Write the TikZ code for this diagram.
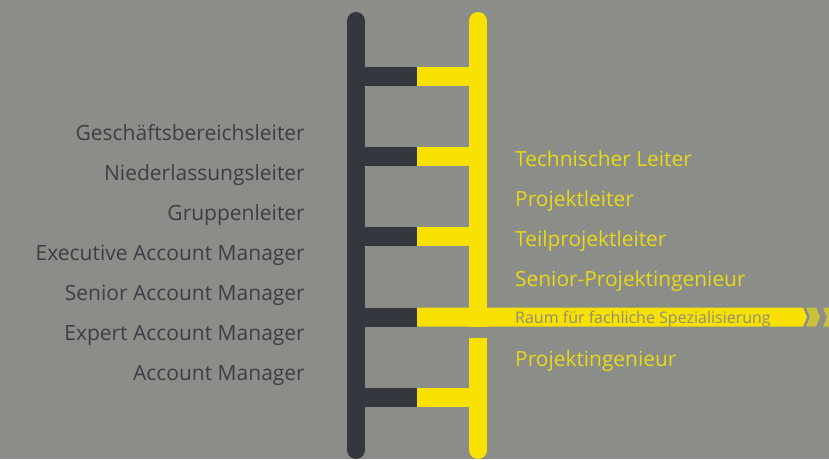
\documentclass[tikz,border=0pt]{standalone}
\usepackage{fontspec}
\setmainfont{Open Sans}[Ligatures=NoCommon]
\definecolor{bg}{HTML}{8A8D88}
\definecolor{rail}{HTML}{34373D}
\definecolor{yel}{HTML}{F8E100}
\definecolor{chev}{HTML}{CBC03A}
\definecolor{ltxt}{HTML}{3C3F44}
\definecolor{rtxt}{HTML}{EAD81A}
\definecolor{btxt}{HTML}{8C8D84}
\begin{document}
\begin{tikzpicture}[x=1pt,y=-1pt,
  lefttext/.style={anchor=base east,inner sep=0pt,text=ltxt,font=\fontsize{21}{22}\selectfont},
  righttext/.style={anchor=base west,inner sep=0pt,text=rtxt,font=\fontsize{20.9}{22}\selectfont},
  bartext/.style={anchor=base west,inner sep=0pt,text=btxt,font=\fontsize{16}{17}\selectfont}]
\fill[bg] (0,0) rectangle (829,459);
\useasboundingbox (0,0) rectangle (829,459);
% dark rail
\draw[rail,line width=18pt,line cap=round] (356,21) -- (356,450);
% yellow rail (two pieces)
\fill[yel] (469,21) rectangle (487,326.5);
\fill[yel] (478,21) circle (9);
\fill[yel] (469,338) rectangle (487,450);
\fill[yel] (478,450) circle (9);
% rungs
\foreach \c in {76,156.25,236.5,397}{
  \fill[rail] (364,\c-9.5) rectangle (417,\c+9.5);
  \fill[yel] (417,\c-9.5) rectangle (470,\c+9.5);
}
% long rung with arrow
\fill[rail] (364,307.5) rectangle (417,326.5);
\fill[yel] (417,307.5) -- (803,307.5) -- (807,317) -- (803,326.5) -- (417,326.5) -- cycle;
\fill[chev] (806,307.5) -- (816,307.5) -- (820,317) -- (816,326.5) -- (806,326.5) -- (810,317) -- cycle;
\fill[chev] (823,307.5) -- (833,307.5) -- (837,317) -- (833,326.5) -- (823,326.5) -- (827,317) -- cycle;
% left labels
\node[lefttext] (l1) at (305,140.5) {Geschäftsbereichsleiter};
\node[lefttext] (l2) at (305,180.5) {Niederlassungsleiter};
\node[lefttext] (l3) at (305,220.5) {Gruppenleiter};
\node[lefttext] (l4) at (305,260.5) {Executive Account Manager};
\node[lefttext] (l5) at (305,300.5) {Senior Account Manager};
\node[lefttext] (l6) at (305,340.5) {Expert Account Manager};
\node[lefttext] (l7) at (305,380.5) {Account Manager};
% right labels
\node[righttext] (r1) at (515,166) {Technischer Leiter};
\node[righttext] (r2) at (515,206) {Projektleiter};
\node[righttext] (r3) at (515,246) {Teilprojektleiter};
\node[righttext] (r4) at (515,286) {Senior-Projektingenieur};
\node[righttext] (r5) at (515,366) {Projektingenieur};
\node[bartext] (b) at (515,323) {Raum für fachliche Spezialisierung};
\end{tikzpicture}
\end{document}
